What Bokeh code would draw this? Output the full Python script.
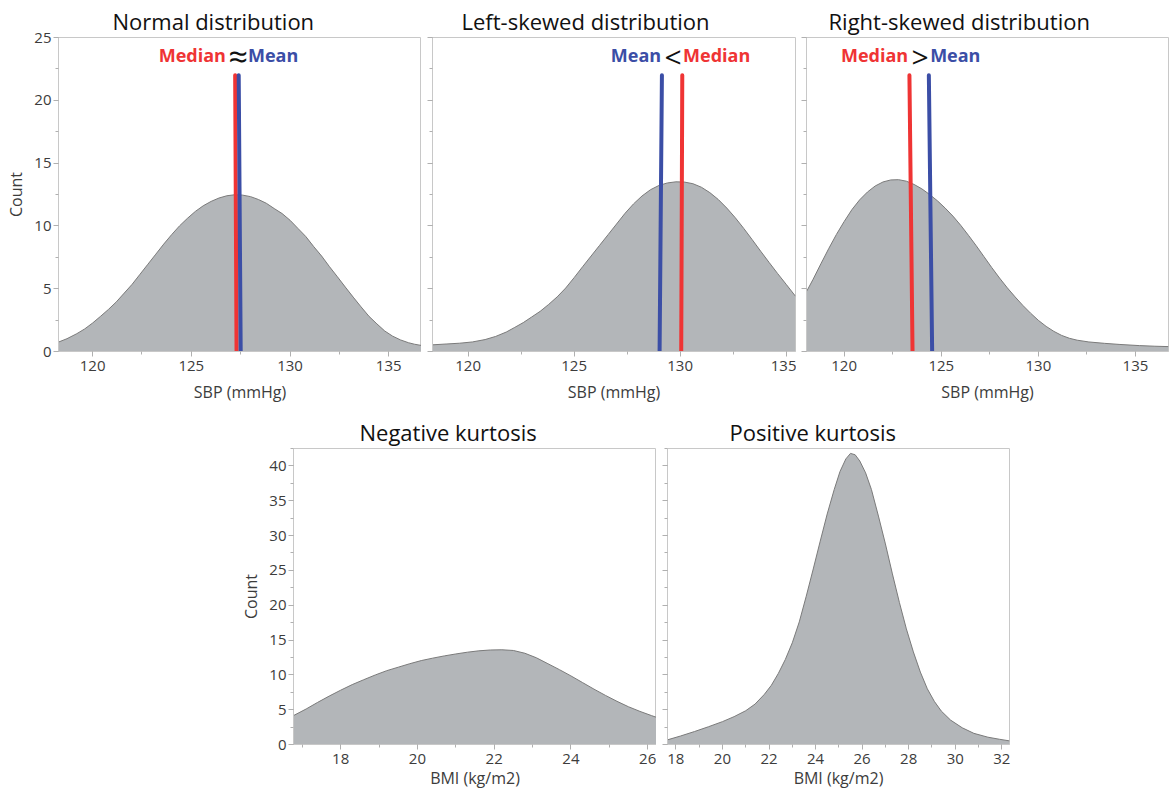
from bokeh.plotting import figure
from bokeh.layouts import column, row, Spacer
from bokeh.models import Range1d, SingleIntervalTicker
from bokeh.core.properties import value
from bokeh.embed import file_html
from bokeh.resources import INLINE

# ---------------- data ----------------
normal_sbp = [118.27, 118.7, 119.2, 119.6, 120.0, 120.4, 120.8, 121.2, 121.6, 122.0, 122.4, 122.8,
              123.2, 123.6, 124.0, 124.4, 124.8, 125.2, 125.6, 126.0, 126.4, 126.8, 127.2, 127.6,
              128.0, 128.4, 128.8, 129.2, 129.6, 130.0, 130.4, 130.8, 131.2, 131.6, 132.0, 132.4,
              132.8, 133.2, 133.6, 134.0, 134.4, 134.8, 135.2, 135.6, 136.0, 136.3, 136.66]
normal_count = [0.75, 1.02, 1.42, 1.8, 2.27, 2.8, 3.35, 3.95, 4.65, 5.35, 6.15, 6.95,
                7.75, 8.55, 9.3, 10.0, 10.6, 11.15, 11.6, 11.95, 12.22, 12.4, 12.48, 12.45,
                12.33, 12.1, 11.8, 11.38, 10.98, 10.45, 9.8, 9.15, 8.35, 7.6, 6.75, 5.95,
                5.13, 4.33, 3.55, 2.8, 2.2, 1.63, 1.22, 0.92, 0.7, 0.58, 0.48]

left_sbp = [118.32, 119.0, 119.6, 120.2, 120.8, 121.3, 121.8, 122.2, 122.6, 123.0, 123.4, 123.8,
            124.2, 124.6, 125.0, 125.4, 125.8, 126.2, 126.6, 127.0, 127.4, 127.8, 128.2, 128.6,
            129.0, 129.4, 129.8, 130.2, 130.6, 131.0, 131.4, 131.8, 132.2, 132.6, 133.0, 133.4,
            133.8, 134.2, 134.6, 135.0, 135.44]
left_count = [0.53, 0.6, 0.66, 0.76, 0.95, 1.2, 1.55, 1.92, 2.3, 2.75, 3.2, 3.75,
              4.35, 5.05, 5.88, 6.75, 7.6, 8.45, 9.3, 10.15, 11.0, 11.75, 12.38, 12.88,
              13.22, 13.42, 13.51, 13.49, 13.36, 13.08, 12.65, 12.1, 11.42, 10.65, 9.8, 8.9,
              7.98, 7.08, 6.2, 5.35, 4.4]

right_sbp = [118.06, 118.4, 118.8, 119.2, 119.6, 120.0, 120.4, 120.8, 121.2, 121.6, 122.0, 122.4,
             122.8, 123.2, 123.6, 124.0, 124.4, 124.8, 125.2, 125.6, 126.0, 126.4, 126.8, 127.2,
             127.6, 128.0, 128.4, 128.8, 129.2, 129.6, 130.0, 130.4, 130.8, 131.2, 131.6, 132.0,
             132.6, 133.4, 134.2, 135.2, 136.0, 136.7]
right_count = [4.77, 5.75, 6.98, 8.18, 9.32, 10.35, 11.3, 12.08, 12.7, 13.18, 13.5, 13.66,
               13.68, 13.56, 13.3, 12.95, 12.5, 12.0, 11.42, 10.78, 10.05, 9.25, 8.42, 7.55,
               6.68, 5.85, 5.07, 4.35, 3.67, 3.05, 2.48, 2.0, 1.6, 1.28, 1.05, 0.9,
               0.76, 0.65, 0.56, 0.47, 0.42, 0.39]

neg_bmi = [16.77, 17.1, 17.4, 17.7, 18.0, 18.3, 18.6, 18.9, 19.2, 19.5, 19.8, 20.1, 20.4, 20.7,
           21.0, 21.3, 21.6, 21.9, 22.2, 22.5, 22.8, 23.1, 23.4, 23.7, 24.0, 24.3, 24.6, 24.9,
           25.2, 25.5, 25.8, 26.1, 26.23]
neg_count = [4.15, 5.1, 6.05, 6.95, 7.8, 8.6, 9.3, 9.98, 10.6, 11.1, 11.6, 12.05, 12.4, 12.72,
             13.0, 13.25, 13.45, 13.57, 13.6, 13.5, 13.1, 12.45, 11.6, 10.75, 9.85, 8.9, 7.95, 7.05,
             6.2, 5.42, 4.75, 4.15, 3.9]

pos_bmi = [17.64, 18.2, 18.8, 19.4, 20.0, 20.5, 21.0, 21.4, 21.8, 22.1, 22.4, 22.7, 23.0, 23.3,
           23.6, 23.9, 24.2, 24.5, 24.8, 25.05, 25.3, 25.5, 25.7, 25.9, 26.15, 26.4, 26.7, 27.0,
           27.3, 27.6, 27.9, 28.2, 28.5, 28.8, 29.1, 29.4, 29.8, 30.3, 30.8, 31.4, 31.9, 32.33]
pos_count = [0.67, 1.22, 1.86, 2.55, 3.28, 4.0, 4.85, 5.8, 7.2, 8.5, 10.2, 12.2, 14.6, 17.6,
             21.3, 25.2, 29.2, 33.1, 36.6, 39.2, 41.0, 41.8, 41.6, 40.7, 39.0, 36.6, 32.8, 28.8,
             24.5, 20.4, 16.6, 13.3, 10.4, 8.0, 6.2, 4.8, 3.5, 2.4, 1.6, 1.05, 0.75, 0.52]

# median / mean markers: [x at bottom, x at top]
normal_median = [127.29, 127.22]
normal_mean = [127.50, 127.40]
left_mean = [129.03, 129.14]
left_median = [130.05, 130.10]
right_median = [123.52, 123.36]
right_mean = [124.53, 124.36]
marker_height = 22.0
label_height = 23.6

titles = ["Normal distribution", "Left-skewed distribution", "Right-skewed distribution",
          "Negative kurtosis", "Positive kurtosis"]
sbp_label = "SBP (mmHg)"
bmi_label = "BMI (kg/m2)"
count_label = "Count"

# ---------------- style ----------------
FONT = "Open Sans"
FILL = "#b3b6b9"
EDGE = "#7a7a7a"
RED = "#ef3434"
BLUE = "#3b4ea6"
FRAME = "#c8c8c8"
TICK = "#b0b0b0"
TXT = "#3c3c3c"


def make_panel(width, height, bl, br, bt, bb, xr, yr, xint, yint, title, title_offset,
               xlabel, ylabel, show_ylabels, xlabel_standoff):
    p = figure(width=width, height=height, x_range=Range1d(*xr), y_range=Range1d(*yr),
               output_backend="svg", toolbar_location=None,
               min_border_left=bl, min_border_right=br, min_border_top=bt, min_border_bottom=bb)
    p.xgrid.visible = False
    p.ygrid.visible = False
    p.outline_line_color = FRAME
    p.outline_line_width = 1
    p.background_fill_color = "white"
    p.border_fill_color = "white"

    p.title.text = title
    p.title.align = "left"
    p.title.offset = title_offset
    p.title.standoff = 3
    p.title.text_font = FONT
    p.title.text_font_size = "22px"
    p.title.text_font_style = "normal"
    p.title.text_color = "#111111"

    p.xaxis.ticker = SingleIntervalTicker(interval=xint, num_minor_ticks=2)
    p.yaxis.ticker = SingleIntervalTicker(interval=yint, num_minor_ticks=2)
    for ax in (p.xaxis[0], p.yaxis[0]):
        ax.axis_line_color = FRAME
        ax.major_tick_line_color = TICK
        ax.minor_tick_line_color = TICK
        ax.major_tick_in = 0
        ax.major_tick_out = 5
        ax.minor_tick_in = 0
        ax.minor_tick_out = 3
        ax.major_label_text_font = FONT
        ax.major_label_text_font_size = "15px"
        ax.major_label_text_color = TXT
        ax.major_label_standoff = 2
        ax.axis_label_text_font = FONT
        ax.axis_label_text_font_size = "16px"
        ax.axis_label_text_font_style = "normal"
        ax.axis_label_text_color = TXT
    p.xaxis.major_label_standoff = 4
    p.xaxis.axis_label = xlabel
    p.xaxis.axis_label_standoff = xlabel_standoff
    if show_ylabels:
        p.yaxis.axis_label = ylabel
        p.yaxis.axis_label_standoff = 4
    else:
        p.yaxis.major_label_overrides = {v: "" for v in range(0, 50, 5)}
        p.yaxis.major_label_standoff = 0
    return p


def draw_curve(p, xs, ys):
    p.varea(x=xs, y1=[0] * len(xs), y2=ys, fill_color=FILL, fill_alpha=1.0)
    p.line(x=xs, y=ys, line_color=EDGE, line_width=1)


def draw_marker(p, xs, color):
    p.segment(x0=[xs[0]], y0=[0], x1=[xs[1]], y1=[marker_height],
              line_color=color, line_width=4, line_cap="round")


def draw_labels(p, xa, xb, left_text, left_color, sym, sym_size, right_text, right_color):
    xm = (xa + xb) / 2
    p.text(x=[xm], y=[label_height], text=[left_text], text_font=value(FONT), text_font_style="bold",
           text_font_size="18px", text_color=left_color, text_align="right",
           text_baseline="alphabetic", x_offset=-11)
    p.text(x=[xm], y=[label_height], text=[sym], text_font=value(FONT),
           text_font_size=sym_size, text_color="#111111", text_align="center",
           text_baseline="alphabetic", x_offset=1, y_offset=1)
    p.text(x=[xm], y=[label_height], text=[right_text], text_font=value(FONT), text_font_style="bold",
           text_font_size="18px", text_color=right_color, text_align="left",
           text_baseline="alphabetic", x_offset=11)


# ---------------- top row ----------------
TOP_H = 410
p1 = make_panel(421, TOP_H, 58, 0, 37, 59, (118.27, 136.66), (0, 25), 5, 5,
                titles[0], 54, sbp_label, count_label, True, 7)
draw_curve(p1, normal_sbp, normal_count)
draw_marker(p1, normal_median, RED)
draw_marker(p1, normal_mean, BLUE)
draw_labels(p1, normal_median[1], normal_mean[1], "Median", RED, "≈", "34px", "Mean", BLUE)

p2 = make_panel(375, TOP_H, 11, 1, 37, 59, (118.32, 135.44), (0, 25), 5, 5,
                titles[1], 29, sbp_label, count_label, False, 7)
draw_curve(p2, left_sbp, left_count)
draw_marker(p2, left_mean, BLUE)
draw_marker(p2, left_median, RED)
draw_labels(p2, left_mean[1], left_median[1], "Mean", BLUE, "<", "30px", "Median", RED)

p3 = make_panel(376, TOP_H, 10, 4, 37, 59, (118.06, 136.70), (0, 25), 5, 5,
                titles[2], 22, sbp_label, count_label, False, 7)
draw_curve(p3, right_sbp, right_count)
draw_marker(p3, right_median, RED)
draw_marker(p3, right_mean, BLUE)
draw_labels(p3, right_median[1], right_mean[1], "Median", RED, ">", "30px", "Mean", BLUE)

# ---------------- bottom row ----------------
BOT_H = 386
p4 = make_panel(421, BOT_H, 58, 0, 38, 52, (16.77, 26.23), (0, 42.5), 2, 5,
                titles[3], 66, bmi_label, count_label, True, 0)
draw_curve(p4, neg_bmi, neg_count)

p5 = make_panel(357, BOT_H, 11, 4, 38, 52, (17.64, 32.33), (0, 42.5), 2, 5,
                titles[4], 62, bmi_label, count_label, False, 0)
draw_curve(p5, pos_bmi, pos_count)

layout = column(row(p1, p2, p3, spacing=0),
                row(Spacer(width=235, height=BOT_H), p4, p5, spacing=0),
                spacing=0)

open("out.html", "w").write(file_html(layout, INLINE))
